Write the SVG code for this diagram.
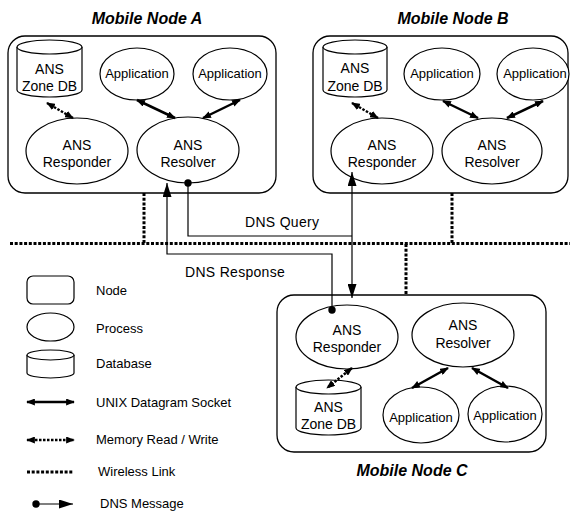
<svg xmlns="http://www.w3.org/2000/svg" width="570" height="512" viewBox="0 0 570 512">
<style>
text{font-family:"Liberation Sans",Arial,sans-serif;fill:#000}
.title{font-size:16px;font-weight:bold;font-style:italic;text-anchor:middle}
.big{font-size:14px;text-anchor:middle}
.app{font-size:13px;text-anchor:middle}
.lg{font-size:13px}
.msg{font-size:14px;letter-spacing:0.3px}
.box{fill:#fff;stroke:#000;stroke-width:1.3}
.shp{fill:#fff;stroke:#000;stroke-width:1.2}
.sock{stroke:#000;stroke-width:2.5;fill:none;marker-start:url(#ah);marker-end:url(#ah)}
.mem{stroke:#000;stroke-width:2.5;stroke-dasharray:2.5 1.5;fill:none;marker-start:url(#ah);marker-end:url(#ah)}
.wl{stroke:#000;stroke-width:3;stroke-dasharray:3 1.7;fill:none}
.dns{stroke:#000;stroke-width:1.2;fill:none}
</style>
<defs>
<marker id="ah" viewBox="0 0 10 8" refX="9" refY="4" markerUnits="userSpaceOnUse" markerWidth="9" markerHeight="7" orient="auto-start-reverse"><path d="M0,0 L10,4 L0,8 z" fill="#000"/></marker>
<marker id="da" viewBox="0 0 14 9" refX="14" refY="4.5" markerUnits="userSpaceOnUse" markerWidth="14" markerHeight="9" orient="auto-start-reverse"><path d="M0,0 L14,4.5 L0,9 z" fill="#000"/></marker>
<marker id="dot" viewBox="0 0 8 8" refX="4" refY="4" markerUnits="userSpaceOnUse" markerWidth="8" markerHeight="8"><circle cx="4" cy="4" r="3.7" fill="#000"/></marker>
</defs>

<!-- Wireless links -->
<g id="wireless">
<line class="wl" x1="10" y1="243.5" x2="570" y2="243.5"/>
<line class="wl" x1="144" y1="193" x2="144" y2="243"/>
<line class="wl" x1="452" y1="193" x2="452" y2="243"/>
<line class="wl" x1="406" y1="244" x2="406" y2="295"/>
</g>

<!-- Node A -->
<g id="nodeA">
<text class="title" x="147" y="24">Mobile Node A</text>
<rect class="box" x="8" y="36" width="268" height="157" rx="17"/>
</g>
<g id="nodeA-zonedb">
<path class="shp" d="M17,47 L17,90 A32.5,7 0 0 0 82,90 L82,47"/>
<ellipse class="shp" cx="49.5" cy="47" rx="32.5" ry="7"/>
<text class="big" x="49.5" y="74">ANS</text>
<text class="big" x="49.5" y="91">Zone DB</text>
</g>
<g id="nodeA-app1"><ellipse class="shp" cx="137" cy="74" rx="37" ry="26"/><text class="app" x="137" y="78">Application</text></g>
<g id="nodeA-app2"><ellipse class="shp" cx="230" cy="74" rx="37" ry="26"/><text class="app" x="230" y="78">Application</text></g>
<g id="nodeA-responder"><ellipse class="shp" cx="77" cy="151" rx="51" ry="33"/><text class="big" x="77" y="150">ANS</text><text class="big" x="77" y="167">Responder</text></g>
<g id="nodeA-resolver"><ellipse class="shp" cx="188" cy="150" rx="51" ry="33"/><text class="big" x="188" y="150">ANS</text><text class="big" x="188" y="167">Resolver</text></g>

<!-- Node B -->
<g id="nodeB">
<text class="title" x="453" y="24">Mobile Node B</text>
<rect class="box" x="313" y="36" width="255" height="157" rx="17"/>
</g>
<g id="nodeB-zonedb">
<path class="shp" d="M323,47 L323,90 A32,7 0 0 0 387,90 L387,47"/>
<ellipse class="shp" cx="355" cy="47" rx="32" ry="7"/>
<text class="big" x="355" y="73">ANS</text>
<text class="big" x="355" y="91">Zone DB</text>
</g>
<g id="nodeB-app1"><ellipse class="shp" cx="442" cy="74" rx="38" ry="26"/><text class="app" x="442" y="78">Application</text></g>
<g id="nodeB-app2"><ellipse class="shp" cx="533" cy="74" rx="36" ry="26"/><text class="app" x="535" y="78">Application</text></g>
<g id="nodeB-responder"><ellipse class="shp" cx="382" cy="151" rx="51" ry="33"/><text class="big" x="382" y="150">ANS</text><text class="big" x="382" y="167">Responder</text></g>
<g id="nodeB-resolver"><ellipse class="shp" cx="492" cy="151" rx="50" ry="33"/><text class="big" x="492" y="150">ANS</text><text class="big" x="492" y="167">Resolver</text></g>

<!-- Node C -->
<g id="nodeC">
<rect class="box" x="277" y="295" width="269" height="157" rx="17"/>
<text class="title" x="412" y="476">Mobile Node C</text>
</g>
<g id="nodeC-responder"><ellipse class="shp" cx="347" cy="337" rx="51" ry="32"/><text class="big" x="347" y="335">ANS</text><text class="big" x="347" y="352">Responder</text></g>
<g id="nodeC-resolver"><ellipse class="shp" cx="463" cy="335" rx="51" ry="32"/><text class="big" x="463" y="330">ANS</text><text class="big" x="463" y="348">Resolver</text></g>
<g id="nodeC-zonedb">
<path class="shp" d="M296,387 L296,428 A32.5,7 0 0 0 361,428 L361,387"/>
<ellipse class="shp" cx="328.5" cy="387" rx="32.5" ry="7"/>
<text class="big" x="328.5" y="412">ANS</text>
<text class="big" x="328.5" y="429">Zone DB</text>
</g>
<g id="nodeC-app1"><ellipse class="shp" cx="421" cy="415" rx="38" ry="28"/><text class="app" x="421" y="422">Application</text></g>
<g id="nodeC-app2"><ellipse class="shp" cx="505" cy="414" rx="37" ry="28"/><text class="app" x="505" y="420">Application</text></g>

<!-- Connectors -->
<g id="connectors">
<line class="mem" x1="47" y1="103" x2="73" y2="118"/>
<line class="sock" x1="137" y1="100" x2="175" y2="118"/>
<line class="sock" x1="240" y1="100" x2="203" y2="118"/>
<line class="mem" x1="352" y1="103" x2="378" y2="118"/>
<line class="sock" x1="443" y1="101" x2="478" y2="118"/>
<line class="sock" x1="543" y1="101" x2="507" y2="118"/>
<line class="mem" x1="352" y1="368" x2="327" y2="388"/>
<line class="sock" x1="448" y1="368" x2="412" y2="388"/>
<line class="sock" x1="472" y1="368" x2="508" y2="388"/>
<path class="dns" d="M188,183 L188,236 L352,236" marker-start="url(#dot)"/>
<line class="dns" x1="352" y1="172" x2="352" y2="298" marker-start="url(#da)" marker-end="url(#da)"/>
<path class="dns" d="M332,310 L332,254 L167,254 L167,183" marker-start="url(#dot)" marker-end="url(#da)"/>
<text class="msg" x="245" y="227">DNS Query</text>
<text class="msg" x="185" y="277">DNS Response</text>
</g>

<!-- Legend -->
<g id="legend">
<rect class="shp" x="27" y="276" width="47" height="28" rx="6"/>
<text class="lg" x="96" y="295">Node</text>
<ellipse class="shp" cx="50.5" cy="327" rx="23.5" ry="14"/>
<text class="lg" x="96" y="333">Process</text>
<path class="shp" d="M27,355 L27,373 A23.5,5 0 0 0 74,373 L74,355"/>
<ellipse class="shp" cx="50.5" cy="355" rx="23.5" ry="5"/>
<text class="lg" x="96" y="368">Database</text>
<line class="sock" x1="27" y1="402" x2="74" y2="402"/>
<text class="lg" x="96" y="407">UNIX Datagram Socket</text>
<line class="mem" x1="27" y1="440" x2="74" y2="440"/>
<text class="lg" x="96" y="444">Memory Read / Write</text>
<line class="wl" x1="27" y1="472" x2="74" y2="472"/>
<text class="lg" x="98" y="476">Wireless Link</text>
<line class="dns" x1="36" y1="504" x2="73" y2="504" marker-start="url(#dot)" marker-end="url(#da)"/>
<text class="lg" x="100" y="508">DNS Message</text>
</g>
</svg>
